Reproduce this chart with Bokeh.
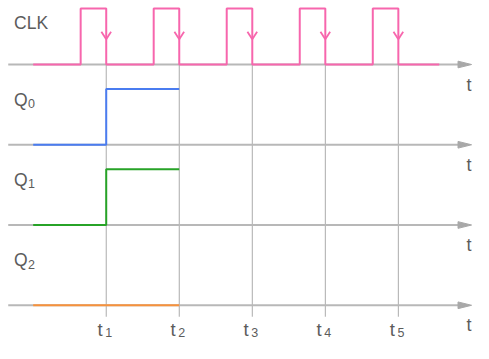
from bokeh.plotting import figure
from bokeh.models import Range1d
from bokeh.core.properties import value
from bokeh.embed import file_html
from bokeh.resources import INLINE

# ---- data ----
signals = ["CLK", "Q", "Q", "Q"]
subs = ["", "0", "1", "2"]
clk_t = [0, 0.65, 1, 1.65, 2, 2.65, 3, 3.65, 4, 4.65, 5, 5.56]
clk_v = [0, 1, 0, 1, 0, 1, 0, 1, 0, 1, 0, 0]
falls = [1, 2, 3, 4, 5]
q0_t = [0, 1, 2]
q0_v = [0, 1, 1]
q1_t = [0, 1, 2]
q1_v = [0, 1, 1]
q2_t = [0, 2]
q2_v = [0, 0]
tick_labels = ["1", "2", "3", "4", "5"]

# ---- style ----
W, H = 489, 359          # design space (reference pixels)
FW, FH = 473, 343        # actual figure size (fits the window with 8px margin)
ROW = 84.0
AMP = 58.5
PX = 75.5                # design pixels per time unit
OX = 33.8                # design pixel of t = 0
colors = ["#f766ad", "#4a7cf0", "#27a327", "#f7923c"]
gray = "#b8b8b8"
txt = "#5c5c5c"
FONT = value("Liberation Sans")

xl = -OX / PX
xr = xl + W / PX
p = figure(width=FW, height=FH, output_backend="svg", toolbar_location=None,
           x_range=Range1d(xl, xr), y_range=Range1d(67 - H, 67),
           min_border=0, outline_line_color=None)
p.axis.visible = False
p.grid.visible = False

bases = [-i * ROW for i in range(4)]
ah = 14 / PX
ax0 = xl + 8 / PX
tip = xl + 487 / PX

# vertical gridlines at falling edges
p.segment(x0=falls, y0=[0] * 5, x1=falls, y1=[-264] * 5, line_color="#ababab", line_width=1)

# axes
for b in bases:
    p.line([ax0, tip - ah], [b, b], line_color=gray, line_width=2)
    p.patch([tip - ah, tip, tip - ah], [b + 3.5, b, b - 3.5], fill_color="#a8a8a8", line_color="#a8a8a8")
    p.text(x=[tip], y=[b - 21], text=["t"], text_font=FONT, text_font_size="18px",
           text_color=txt, text_align="right", text_baseline="alphabetic")

series = [(clk_t, clk_v), (q0_t, q0_v), (q1_t, q1_v), (q2_t, q2_v)]
for (t, v), b, c in zip(series, bases, colors):
    p.step(x=t, y=[b + AMP * vv for vv in v], mode="after", line_color=c, line_width=2)

# falling edge arrows on clock
dx = 5 / PX
p.segment(x0=[f - dx for f in falls], y0=[34.3] * 5, x1=falls, y1=[26.5] * 5, line_color=colors[0], line_width=1.8)
p.segment(x0=[f + dx for f in falls], y0=[34.3] * 5, x1=falls, y1=[26.5] * 5, line_color=colors[0], line_width=1.8)

# row labels
lx = xl + 14 / PX
for name, s, b in zip(signals, subs, bases):
    yb = b + (43.5 if s == "" else 47)
    p.text(x=[lx], y=[yb], text=[name], text_font=FONT, text_font_size="17.5px",
           text_color=txt, text_baseline="alphabetic")
    if s:
        p.text(x=[lx + 14.5 / PX], y=[yb - 4], text=[s], text_font=FONT, text_font_size="12.5px",
               text_color=txt, text_baseline="alphabetic")

# time labels
yb = bases[3] - 25
p.text(x=[f - 9 / PX for f in falls], y=[yb] * 5, text=["t"] * 5, text_font=FONT,
       text_font_size="18.5px", text_color=txt, text_baseline="alphabetic")
p.text(x=[f - 1 / PX for f in falls], y=[yb - 4] * 5, text=tick_labels, text_font=FONT,
       text_font_size="12.5px", text_color=txt, text_baseline="alphabetic")

open("out.html", "w").write(file_html(p, INLINE))
